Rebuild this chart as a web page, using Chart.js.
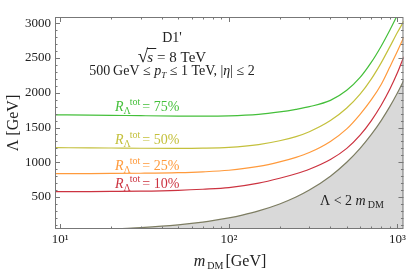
<!DOCTYPE html>
<html>
<head>
<meta charset="utf-8">
<script src="https://cdn.jsdelivr.net/npm/chart.js@4/dist/chart.umd.min.js"></script>
<style>
  html, body { margin: 0; padding: 0; background: #fff; }
  canvas { display: block; }
</style>
</head>
<body>
<canvas id="chart" width="409" height="272"></canvas>
<script>
// dark matter mass grid (GeV) and Lambda contours (GeV)
const mass = [9.3, 15, 20, 30, 50, 70, 100, 150, 200, 250, 300, 400, 500, 600, 700, 800, 900, 1000, 1090];
const r75 = [1682, 1678, 1675, 1670, 1665, 1664, 1668, 1690, 1725, 1762, 1800, 1890, 2035, 2220, 2440, 2670, 2900, 3120, 3300];
const r50 = [1210, 1207, 1205, 1202, 1200, 1203, 1215, 1255, 1310, 1370, 1440, 1600, 1780, 1980, 2200, 2430, 2660, 2870, 3030];
const r25 = [838, 838, 839, 842, 850, 862, 885, 940, 1005, 1070, 1140, 1300, 1480, 1690, 1900, 2120, 2370, 2600, 2800];
const r10 = [578, 579, 581, 585, 597, 612, 635, 700, 770, 835, 900, 1040, 1200, 1390, 1600, 1820, 2050, 2290, 2520];
const ratioLabels = ['75%', '50%', '25%', '10%'];

// excluded region Lambda < 2 m_DM
const massBound = [9.3, 12, 15, 20, 25, 30, 40, 50, 60, 70, 80, 100, 120, 150, 200, 250, 300, 400, 500, 600, 700, 800, 900, 1000, 1090];
const lambdaBound = [18.6, 24, 30, 40, 50, 60, 80, 100, 120, 140, 160, 200, 240, 300, 400, 500, 600, 800, 1000, 1200, 1400, 1600, 1800, 2000, 2180];

// tick labels
const yTicks = [500, 1000, 1500, 2000, 2500, 3000];
const xTicks = [10, 100, 1000];
const xTickLabels = ['10\u00b9', '10\u00b2', '10\u00b3'];

const colors = ['#44bf3a', '#c4c03c', '#ff9a3c', '#cc3340'];
const serif = '"Liberation Serif", "DejaVu Serif", serif';

function pts(xs, ys) {
    return xs.map((x, i) => ({ x: x, y: ys[i] }));
}

// draw a run of text pieces: [text, font, dy, extra gap]
function drawRun(ctx, x, y, parts, align) {
    let total = 0;
    parts.forEach(p => { ctx.font = p[1]; total += ctx.measureText(p[0]).width + (p[3] || 0); });
    let cx = align === 'center' ? x - total / 2 : x;
    const start = cx;
    parts.forEach(p => {
        ctx.font = p[1];
        ctx.fillText(p[0], cx, y + (p[2] || 0));
        cx += ctx.measureText(p[0]).width + (p[3] || 0);
    });
    return start;
}

const framePlugin = {
    id: 'frameTicks',
    afterDatasetsDraw(chart) {
        const ctx = chart.ctx;
        const a = chart.chartArea;
        const xs = chart.scales.x, ys = chart.scales.y;
        ctx.save();
        ctx.strokeStyle = '#777';
        ctx.lineWidth = 1;
        ctx.strokeRect(a.left + 0.5, a.top + 0.5, a.right - a.left - 1, a.bottom - a.top - 1);
        ctx.beginPath();
        for (let v = 100; v <= 3000; v += 100) {
            const py = Math.round(ys.getPixelForValue(v)) + 0.5;
            const len = v % 500 === 0 ? 5 : 2.5;
            ctx.moveTo(a.left, py); ctx.lineTo(a.left + len, py);
            ctx.moveTo(a.right, py); ctx.lineTo(a.right - len, py);
        }
        for (let d = 10; d <= 1000; d *= 10) {
            for (let k = 1; k <= 9; k++) {
                const v = k * d;
                if (v < xs.min || v > xs.max) continue;
                const px = Math.round(xs.getPixelForValue(v)) + 0.5;
                const len = k === 1 ? 5 : 2.5;
                ctx.moveTo(px, a.bottom); ctx.lineTo(px, a.bottom - len);
                ctx.moveTo(px, a.top); ctx.lineTo(px, a.top + len);
            }
        }
        ctx.stroke();
        ctx.restore();
    },
    afterDraw(chart) {
        const ctx = chart.ctx;
        const ys = chart.scales.y;
        ctx.save();
        ctx.textBaseline = 'alphabetic';

        // header text
        ctx.fillStyle = '#222';
        drawRun(ctx, 172, 42, [["D1'", '14px ' + serif]], 'center');
        const sx = drawRun(ctx, 172, 62, [
            ['\u221a', '19px ' + serif, 0, -1],
            ['s', 'italic 15px ' + serif, 0, 4],
            ['= 8 TeV', '15px ' + serif]
        ], 'center');
        // radical bar over s
        ctx.font = '19px ' + serif;
        const rw = ctx.measureText('\u221a').width;
        ctx.strokeStyle = '#222';
        ctx.beginPath();
        ctx.moveTo(sx + rw - 1.5, 48.5); ctx.lineTo(sx + rw + 8, 48.5);
        ctx.stroke();
        drawRun(ctx, 172, 75, [
            ['500\u2009GeV \u2264 ', '14px ' + serif],
            ['p', 'italic 14px ' + serif],
            ['T', 'italic 9px ' + serif, 3],
            [' \u2264 1 TeV, |', '14px ' + serif],
            ['\u03b7', 'italic 14px ' + serif],
            ['| \u2264 2', '14px ' + serif]
        ], 'center');

        // contour labels
        const flat = [r75[0], r50[0], r25[0], r10[0]];
        flat.forEach((v, i) => {
            const py = ys.getPixelForValue(v) - 4;
            ctx.fillStyle = colors[i];
            drawRun(ctx, 115, py, [
                ['R', 'italic 14px ' + serif],
                ['\u039b', '10px ' + serif, 3, -1],
                ['tot', '10px ' + serif, -6, 2],
                ['= ' + ratioLabels[i], '14px ' + serif]
            ]);
        });

        // excluded region label
        ctx.fillStyle = '#222';
        drawRun(ctx, 320, 205, [
            ['\u039b < 2 ', '14px ' + serif],
            ['m', 'italic 14px ' + serif, 0, 2],
            ['DM', '10px ' + serif, 3]
        ]);

        // axis titles
        drawRun(ctx, 230, 266, [
            ['m', 'italic 16px ' + serif, 0, 2],
            ['DM', '10px ' + serif, 3, 2],
            ['[GeV]', '16px ' + serif]
        ], 'center');
        ctx.translate(18, 123);
        ctx.rotate(-Math.PI / 2);
        drawRun(ctx, 0, 0, [['\u039b [GeV]', '16px ' + serif]], 'center');
        ctx.restore();
    }
};

const series = [r75, r50, r25, r10];
const datasets = [{
    data: pts(massBound, lambdaBound),
    borderColor: '#7d7d62',
    borderWidth: 1.2,
    backgroundColor: '#d9d9d9',
    fill: 'start',
    pointRadius: 0,
    cubicInterpolationMode: 'monotone'
}].concat(series.map((s, i) => ({
    data: pts(mass, s),
    borderColor: colors[i],
    borderWidth: 1.2,
    fill: false,
    pointRadius: 0,
    cubicInterpolationMode: 'monotone'
})));

new Chart(document.getElementById('chart').getContext('2d'), {
    type: 'line',
    data: { datasets },
    options: {
        responsive: false,
        animation: false,
        devicePixelRatio: 1,
        layout: { padding: { top: 17, right: 3, left: 0, bottom: 0 } },
        plugins: { legend: { display: false }, tooltip: { enabled: false } },
        scales: {
            x: {
                type: 'logarithmic',
                min: 9.3,
                max: 1085,
                grid: { display: false, drawTicks: false },
                border: { display: false },
                afterFit: s => { s.height = 43; },
                afterBuildTicks: s => { s.ticks = xTicks.map(v => ({ value: v })); },
                ticks: {
                    autoSkip: false,
                    maxRotation: 0,
                    padding: 3,
                    color: '#222',
                    font: { family: serif, size: 13 },
                    callback: v => xTickLabels[xTicks.indexOf(v)]
                }
            },
            y: {
                min: 40,
                max: 3090,
                grid: { display: false, drawTicks: false },
                border: { display: false },
                afterFit: s => { s.width = 55; },
                afterBuildTicks: s => { s.ticks = yTicks.map(v => ({ value: v })); },
                ticks: {
                    padding: 4,
                    color: '#222',
                    font: { family: serif, size: 13 },
                    callback: v => String(v)
                }
            }
        }
    },
    plugins: [framePlugin]
});
</script>
</body>
</html>
